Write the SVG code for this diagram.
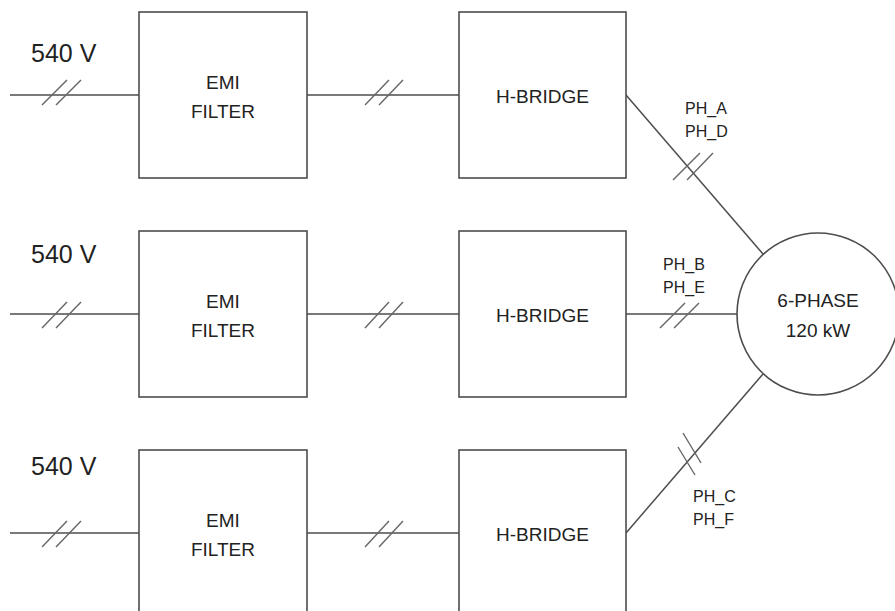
<svg xmlns="http://www.w3.org/2000/svg" width="895" height="611" viewBox="0 0 895 611">
<style>
.box{fill:#fff;stroke:#4d4d4d;stroke-width:1.6}
.ln{fill:none;stroke:#4d4d4d;stroke-width:1.5}
.tk{fill:none;stroke:#666;stroke-width:1.4}
text{font-family:"Liberation Sans",Arial,sans-serif;fill:#222}
.big{font-size:25px}
.lbl{font-size:19px;text-anchor:middle}
.ph{font-size:16px}
</style>
<rect width="895" height="611" fill="#fff"/>
<g id="connectors">
<line class="ln" x1="10" y1="95" x2="139" y2="95"/>
<line class="ln" x1="10" y1="314" x2="139" y2="314"/>
<line class="ln" x1="10" y1="533" x2="139" y2="533"/>
<line class="ln" x1="307" y1="95" x2="459" y2="95"/>
<line class="ln" x1="307" y1="314" x2="459" y2="314"/>
<line class="ln" x1="307" y1="533" x2="459" y2="533"/>
<line class="ln" x1="626" y1="95" x2="763" y2="254"/>
<line class="ln" x1="626" y1="314" x2="737" y2="314"/>
<line class="ln" x1="626" y1="533" x2="763" y2="374"/>
<g class="tk">
<line x1="42" y1="105" x2="67" y2="80"/><line x1="56" y1="105" x2="81" y2="80"/>
<line x1="42" y1="328" x2="67" y2="302"/><line x1="56" y1="328" x2="81" y2="302"/>
<line x1="42" y1="547" x2="67" y2="521"/><line x1="56" y1="547" x2="81" y2="521"/>
<line x1="365" y1="105" x2="389" y2="80"/><line x1="379" y1="105" x2="403" y2="80"/>
<line x1="365" y1="547" x2="389" y2="521"/><line x1="379" y1="547" x2="403" y2="521"/>
<line x1="365" y1="328" x2="389" y2="302"/><line x1="379" y1="328" x2="403" y2="302"/>
<line x1="673" y1="180" x2="700" y2="153"/><line x1="687" y1="180" x2="713" y2="153"/>
<line x1="660" y1="328" x2="685" y2="303"/><line x1="674" y1="328" x2="699" y2="303"/>
<line x1="678" y1="447" x2="695" y2="475"/><line x1="683" y1="433" x2="701" y2="463"/>
</g>
</g>
<g id="v1"><text class="big" x="31" y="62">540 V</text></g>
<g id="v2"><text class="big" x="31" y="263">540 V</text></g>
<g id="v3"><text class="big" x="31" y="475">540 V</text></g>
<g id="emi1"><rect class="box" x="139" y="12" width="168" height="166"/><text class="lbl" x="223" y="89">EMI</text><text class="lbl" x="223" y="118">FILTER</text></g>
<g id="emi2"><rect class="box" x="139" y="231" width="168" height="166"/><text class="lbl" x="223" y="308">EMI</text><text class="lbl" x="223" y="337">FILTER</text></g>
<g id="emi3"><rect class="box" x="139" y="450" width="168" height="166"/><text class="lbl" x="223" y="527">EMI</text><text class="lbl" x="223" y="556">FILTER</text></g>
<g id="hb1"><rect class="box" x="459" y="12" width="167" height="166"/><text class="lbl" x="542.5" y="103">H-BRIDGE</text></g>
<g id="hb2"><rect class="box" x="459" y="231" width="167" height="166"/><text class="lbl" x="542.5" y="322">H-BRIDGE</text></g>
<g id="hb3"><rect class="box" x="459" y="450" width="167" height="166"/><text class="lbl" x="542.5" y="541">H-BRIDGE</text></g>
<g id="motor"><circle class="box" cx="818" cy="314" r="81"/><text class="lbl" x="818" y="307">6-PHASE</text><text class="lbl" x="818" y="337">120 kW</text></g>
<g id="labels">
<text class="ph" x="685" y="114">PH_A</text><text class="ph" x="685" y="137">PH_D</text>
<text class="ph" x="663" y="270">PH_B</text><text class="ph" x="663" y="293">PH_E</text>
<text class="ph" x="693" y="502">PH_C</text><text class="ph" x="693" y="525">PH_F</text>
</g>
</svg>
